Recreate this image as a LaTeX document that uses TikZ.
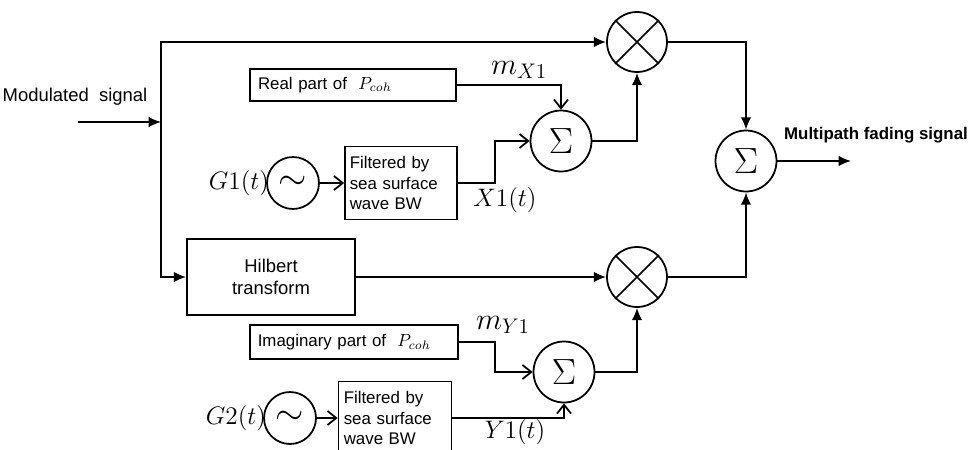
\documentclass[tikz,border=0pt]{standalone}
\usepackage{fontspec}
\setmainfont{Liberation Sans}
\usetikzlibrary{arrows.meta}
\begin{document}
\begin{tikzpicture}[x=0.02cm, y=-0.02cm, line width=1pt,
  block/.style={draw, rectangle, font=\fontsize{9.6}{11.5}\selectfont, align=center, inner sep=2pt},
  mixer/.style={draw, circle, minimum size=1.2cm, inner sep=0pt},
  adder/.style={draw, circle, minimum size=1.22cm, inner sep=0pt, font=\huge},
  osc/.style={draw, circle, minimum size=1.04cm, inner sep=0pt, font=\huge},
  mathlabel/.style={font=\fontsize{14}{16}\selectfont},
  fill arrow/.style={-{Latex[length=7pt, width=6pt]}},
  open arrow/.style={-{Straight Barb[length=5pt, width=8pt]}}]
\useasboundingbox (0,0) rectangle (968,450);
\clip (0,0) rectangle (968,450);

\node[font=\fontsize{10.5}{12}\selectfont] (insig) at (75,97) {Modulated\ \ signal};
\coordinate (in) at (78,122);
\coordinate (split) at (161,122);

\node[block, minimum width=4.12cm, minimum height=0.64cm, text width=3.8cm, align=left] (real) at (353,85) {Real part of \ $P_{coh}$};
\node[osc] (osc1) at (293,183) {$\sim$};
\node[block, minimum width=2.24cm, minimum height=1.46cm, text width=2.05cm, align=left] (filt1) at (401,183) {Filtered by\\sea surface\\wave BW};
\node[adder] (sum1) at (561,141) {$\Sigma$};
\node[mixer] (mult1) at (637,42) {};
\draw (mult1.north east) -- (mult1.south west);
\draw (mult1.north west) -- (mult1.south east);

\node[block, minimum width=3.36cm, minimum height=1.52cm, font=\fontsize{10.5}{12.5}\selectfont] (hilb) at (271,277) {Hilbert\\transform};
\node[mixer] (mult2) at (637,277) {};
\draw (mult2.north east) -- (mult2.south west);
\draw (mult2.north west) -- (mult2.south east);

\node[block, minimum width=4.16cm, minimum height=0.68cm, text width=3.85cm, align=left] (imag) at (354,342) {Imaginary part of \ $P_{coh}$};
\node[osc] (osc2) at (290,418) {$\sim$};
\node[block, minimum width=2.26cm, minimum height=1.46cm, text width=2.05cm, align=left] (filt2) at (395,418) {Filtered by\\sea surface\\wave BW};
\node[adder] (sum2) at (564,372) {$\Sigma$};

\node[adder] (sumout) at (746,161) {$\Sigma$};
\coordinate (out) at (851,161);
\node[font=\fontsize{9.6}{11}\selectfont\bfseries] (outsig) at (876,135) {Multipath fading signal};

\node[mathlabel] (g1) at (239,183) {$G1(t)$};
\node[mathlabel] (g2) at (236,418) {$G2(t)$};
\node (mx) at (519,70) {\LARGE $m_{X1}$};
\node[mathlabel] (x1) at (505,200) {$X1(t)$};
\node (my) at (503,325) {\LARGE $m_{Y1}$};
\node[mathlabel] (y1) at (515,432) {$Y1(t)$};

\draw[fill arrow] (in) -- (split);
\draw[fill arrow] (split) |- (mult1.west);
\draw[fill arrow] (split) |- (hilb.west);
\draw[open arrow] (real.east) -| (sum1.north);
\draw[open arrow] (osc1) -- (filt1);
\draw[open arrow] (filt1.east) -- ++(37,0) |- (sum1.west);
\draw[fill arrow] (sum1.east) -| (mult1.south);
\draw[fill arrow] (hilb.east) -- (mult2.west);
\draw[open arrow] (imag.east) -- ++(36,0) |- (sum2.west);
\draw[open arrow] (osc2) -- (filt2);
\draw[open arrow] (filt2.east) -| (sum2.south);
\draw[fill arrow] (sum2.east) -| (mult2.south);
\draw[fill arrow] (mult1.east) -| (sumout.north);
\draw[fill arrow] (mult2.east) -| (sumout.south);
\draw[fill arrow] (sumout.east) -- (out);
\end{tikzpicture}
\end{document}
